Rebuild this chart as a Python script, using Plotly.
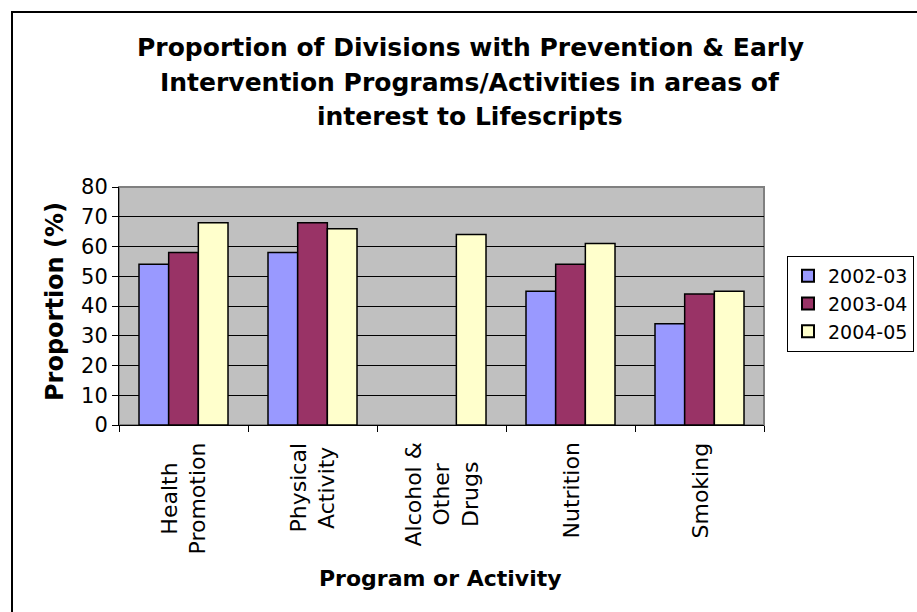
import plotly.graph_objects as go

categories = ["Health<br>Promotion", "Physical<br>Activity", "Alcohol &<br>Other<br>Drugs", "Nutrition", "Smoking"]
series_names = ["2002-03", "2003-04", "2004-05"]
v_2002_03 = [54, 58, None, 45, 34]
v_2003_04 = [58, 68, None, 54, 44]
v_2004_05 = [68, 66, 64, 61, 45]
colors = ["#9999FF", "#993366", "#FFFFCC"]
title_lines = [
    "Proportion of Divisions with Prevention &amp; Early",
    "Intervention Programs/Activities in areas of",
    "interest to Lifescripts",
]

W, H = 917, 612
L, R, T, B = 119, 153, 187, 187
pw, ph = W - L - R, H - T - B
FONT = "DejaVu Sans, Verdana, sans-serif"

fig = go.Figure()
for name, vals, col in zip(series_names, [v_2002_03, v_2003_04, v_2004_05], colors):
    fig.add_trace(go.Bar(
        x=categories, y=vals, name=name,
        marker=dict(color=col, line=dict(color="black", width=1.5)),
    ))

def px_x(p):
    return (p - L) / pw

def px_y(p):
    return (H - B - p) / ph

annotations = []
for c in categories:
    annotations.append(dict(
        x=c, xref="x", y=px_y(441), yref="paper",
        text=c, showarrow=False, textangle=-90,
        xanchor="center", yanchor="top", align="center",
        font=dict(family=FONT, size=22, color="black"),
    ))
for i, line in enumerate(title_lines):
    annotations.append(dict(
        x=px_x(470), xref="paper", y=px_y(47 + 35 * i), yref="paper",
        text="<b>" + line + "</b>", showarrow=False,
        xanchor="center", yanchor="middle",
        font=dict(family=FONT, size=25, color="black"),
    ))
annotations.append(dict(
    x=px_x(440), xref="paper", y=px_y(578), yref="paper",
    text="<b>Program or Activity</b>", showarrow=False,
    xanchor="center", yanchor="middle",
    font=dict(family=FONT, size=22, color="black"),
))
annotations.append(dict(
    x=px_x(55), xref="paper", y=px_y(302), yref="paper",
    text="<b>Proportion (%)</b>", showarrow=False, textangle=-90,
    xanchor="center", yanchor="middle",
    font=dict(family=FONT, size=24, color="black"),
))

fig.update_layout(
    width=W, height=H,
    margin=dict(l=L, r=R, t=T, b=B, pad=0, autoexpand=False),
    paper_bgcolor="white",
    plot_bgcolor="#C0C0C0",
    barmode="group",
    bargap=0.31,
    bargroupgap=0,
    font=dict(family=FONT, color="black"),
    xaxis=dict(
        showticklabels=False, ticks="outside", tickson="boundaries",
        ticklen=6, tickcolor="black", showline=True, linecolor="black",
        linewidth=1, showgrid=False, zeroline=False,
    ),
    yaxis=dict(
        range=[0, 80], dtick=10, ticks="outside", ticklen=6,
        tickcolor="black", showline=True, linecolor="black", linewidth=1,
        showgrid=True, gridcolor="black", gridwidth=1, zeroline=False,
        tickfont=dict(family=FONT, size=21, color="black"),
    ),
    legend=dict(
        x=px_x(787), y=px_y(256), xanchor="left", yanchor="top",
        bgcolor="white", bordercolor="black", borderwidth=1,
        font=dict(family=FONT, size=19, color="black"),
        itemsizing="constant", tracegroupgap=0, itemwidth=30,
    ),
    annotations=annotations,
    shapes=[
        dict(type="rect", xref="paper", yref="paper",
             x0=0, x1=1, y0=0, y1=1,
             line=dict(color="#808080", width=2), layer="below"),
        dict(type="rect", xref="paper", yref="paper",
             x0=px_x(12), x1=px_x(940), y0=px_y(640), y1=px_y(12),
             line=dict(color="black", width=2)),
    ],
)

fig.write_html("out.html")
